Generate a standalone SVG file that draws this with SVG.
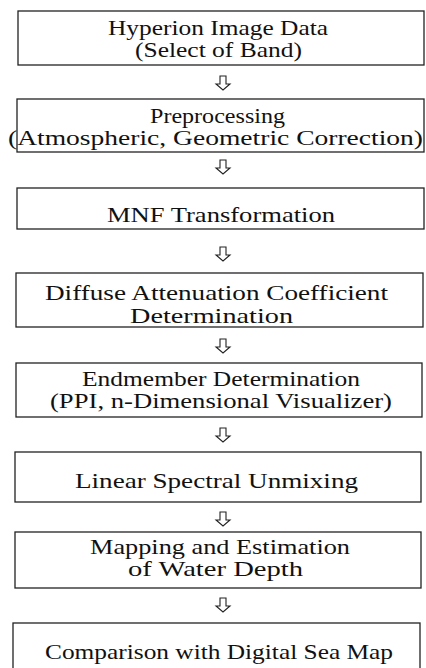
<svg xmlns="http://www.w3.org/2000/svg" width="426" height="668" viewBox="0 0 426 668">
<style>
.box{fill:#fff;stroke:#222;stroke-width:1.3}
.t{font-family:"Liberation Serif","Times New Roman",serif;font-size:21px;fill:#111}
.arr{fill:#fff;stroke:#222;stroke-width:1.1;stroke-linejoin:miter}
</style>
<defs>
<path id="ar" d="M-3,0 H3 V8 H7 L0,14 L-7,8 H-3 Z"/>
</defs>
<rect width="426" height="668" fill="#fff"/>
<g id="connectors">
<use href="#ar" class="arr" x="223" y="76"/>
<use href="#ar" class="arr" x="223" y="160"/>
<use href="#ar" class="arr" x="223" y="247"/>
<use href="#ar" class="arr" x="223" y="339"/>
<use href="#ar" class="arr" x="223" y="428"/>
<use href="#ar" class="arr" x="223" y="512"/>
<use href="#ar" class="arr" x="223" y="598"/>
</g>
<g id="n1">
<rect class="box" x="18" y="11" width="406" height="54"/>
<text class="t" x="108" y="35" textLength="220" lengthAdjust="spacingAndGlyphs">Hyperion Image Data</text>
<text class="t" x="135" y="57" textLength="167" lengthAdjust="spacingAndGlyphs">(Select of Band)</text>
</g>
<g id="n2">
<rect class="box" x="17" y="99" width="407" height="53"/>
<text class="t" x="150" y="123" textLength="135" lengthAdjust="spacingAndGlyphs">Preprocessing</text>
<text class="t" x="8" y="145" textLength="415" lengthAdjust="spacingAndGlyphs">(Atmospheric, Geometric Correction)</text>
</g>
<g id="n3">
<rect class="box" x="17" y="188" width="407" height="41"/>
<text class="t" x="107" y="222" textLength="228" lengthAdjust="spacingAndGlyphs">MNF Transformation</text>
</g>
<g id="n4">
<rect class="box" x="16" y="273" width="407" height="54"/>
<text class="t" x="45" y="300" textLength="343" lengthAdjust="spacingAndGlyphs">Diffuse Attenuation Coefficient</text>
<text class="t" x="130" y="323" textLength="163" lengthAdjust="spacingAndGlyphs">Determination</text>
</g>
<g id="n5">
<rect class="box" x="16" y="363" width="406" height="54"/>
<text class="t" x="82" y="386" textLength="278" lengthAdjust="spacingAndGlyphs">Endmember Determination</text>
<text class="t" x="50" y="408" textLength="342" lengthAdjust="spacingAndGlyphs">(PPI, n-Dimensional Visualizer)</text>
</g>
<g id="n6">
<rect class="box" x="15" y="452" width="406" height="50"/>
<text class="t" x="75" y="488" textLength="283" lengthAdjust="spacingAndGlyphs">Linear Spectral Unmixing</text>
</g>
<g id="n7">
<rect class="box" x="15" y="532" width="406" height="56"/>
<text class="t" x="90" y="554" textLength="260" lengthAdjust="spacingAndGlyphs">Mapping and Estimation</text>
<text class="t" x="128" y="576" textLength="175" lengthAdjust="spacingAndGlyphs">of Water Depth</text>
</g>
<g id="n8">
<rect class="box" x="13" y="623" width="407" height="60"/>
<text class="t" x="45" y="659" textLength="348" lengthAdjust="spacingAndGlyphs">Comparison with Digital Sea Map</text>
</g>
</svg>
